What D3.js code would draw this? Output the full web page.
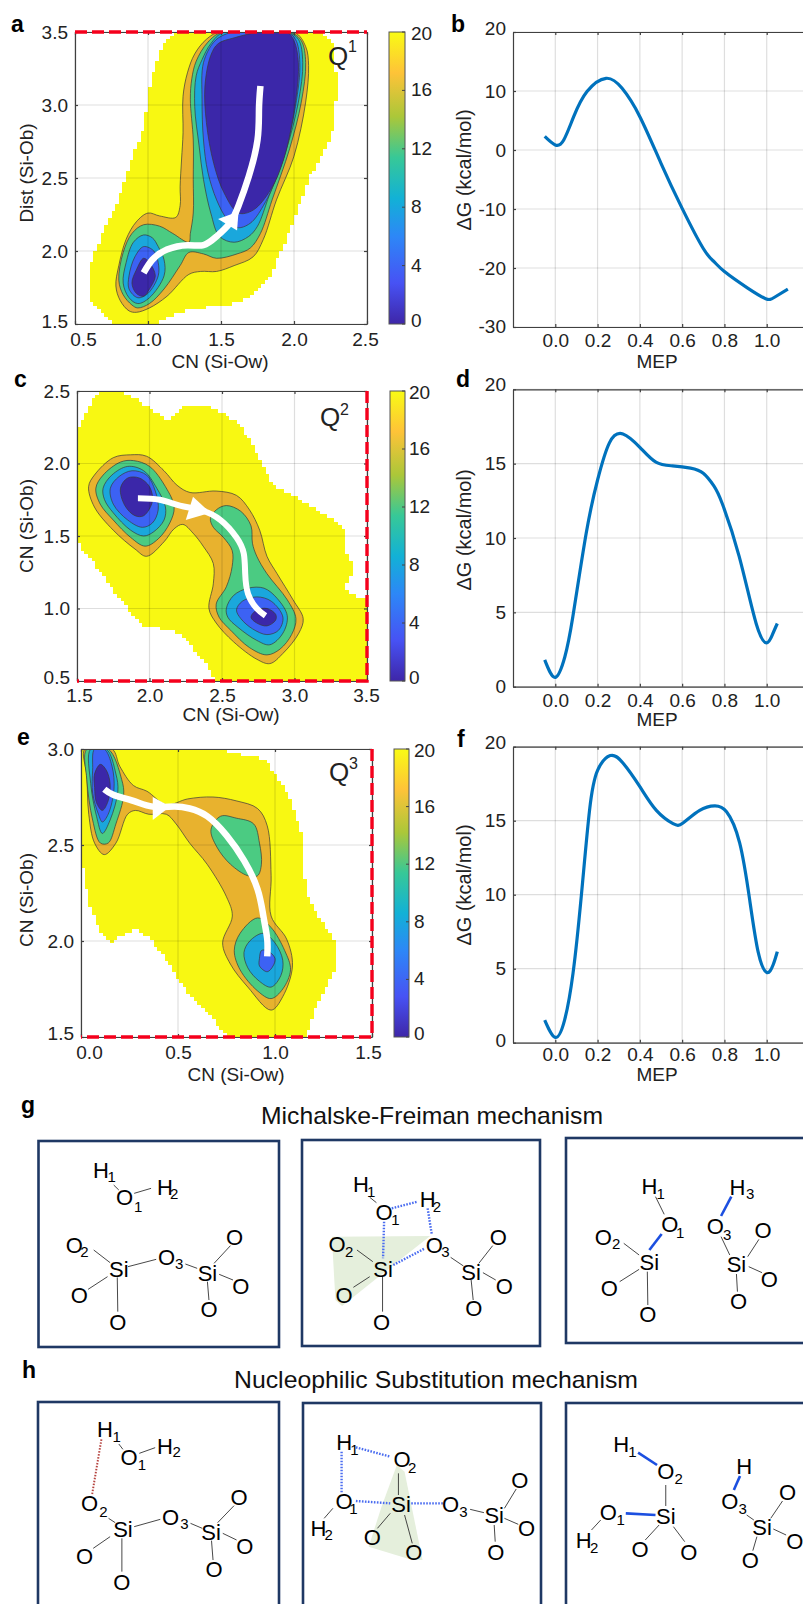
<!DOCTYPE html>
<html>
<head>
<meta charset="utf-8">
<script src="https://cdn.jsdelivr.net/npm/d3@7"></script>
<style>
body { margin: 0; background: #fff; }
text { font-family: "Liberation Sans", Arial, sans-serif; fill: #222; }
</style>
</head>
<body>
<div id="fig"></div>
<script>
// colour levels
const levels = [20, 16, 12, 8, 4, 0];
const bandColors = ["#f8f812", "#e8b22e", "#4bcb82", "#1aa7dc", "#3c62f4", "#3b27a9"];
const parulaStops = [0, 0.14, 0.3, 0.43, 0.57, 0.71, 0.86, 1];
const parulaColors = ["#3e26a8", "#4752f4", "#2d87f7", "#12b1d6", "#37c897", "#abc739", "#fec338", "#f9fb14"];
const cbTicks = [0, 4, 8, 12, 16, 20];

// panel a contours, [CN, Dist]
const a20 = [[1.19,3.5],[1.12,3.45],[1.08,3.36],[1.04,3.24],[1.01,3.11],[.99,2.95],[.96,2.81],[.89,2.63],[.84,2.47],[.76,2.26],[.67,2.08],[.6,1.9],[.6,1.67],[.69,1.58],[.77,1.5],[1.04,1.5],[1.2,1.58],[1.38,1.61],[1.56,1.63],[1.69,1.68],[1.85,1.83],[1.87,1.92],[1.95,2.08],[2.11,2.51],[2.23,2.72],[2.27,2.86],[2.28,2.99],[2.31,3.13],[2.28,3.27],[2.27,3.43],[2.2,3.5]];
const a16 = [[1.49,3.5],[1.4,3.45],[1.32,3.35],[1.27,3.22],[1.24,3.06],[1.24,2.81],[1.23,2.63],[1.22,2.44],[1.22,2.31],[1.19,2.23],[1.08,2.24],[1,2.26],[.92,2.2],[.85,2.08],[.8,1.9],[.78,1.76],[.81,1.66],[.87,1.59],[.92,1.58],[1.01,1.61],[1.13,1.69],[1.28,1.84],[1.36,1.86],[1.47,1.86],[1.59,1.9],[1.72,1.96],[1.79,2.08],[1.88,2.35],[2,2.65],[2.08,3.02],[2.1,3.27],[2.08,3.4],[2,3.5]];
const a12 = [[1.51,3.5],[1.41,3.43],[1.33,3.3],[1.3,3.18],[1.29,3.04],[1.31,2.76],[1.31,2.49],[1.31,2.26],[1.29,2.12],[1.28,2.06],[1.17,2.12],[1.08,2.17],[.97,2.18],[.89,2.12],[.83,1.99],[.8,1.8],[.83,1.7],[.89,1.63],[.93,1.61],[1.01,1.64],[1.11,1.74],[1.22,1.9],[1.28,1.99],[1.38,1.98],[1.47,1.95],[1.61,1.98],[1.7,2.02],[1.77,2.12],[1.85,2.35],[1.97,2.7],[2.05,3.02],[2.08,3.29],[2.05,3.44],[1.97,3.5]];
const a8r = [[1.52,3.5],[1.43,3.42],[1.37,3.31],[1.33,3.2],[1.32,2.99],[1.35,2.72],[1.38,2.49],[1.43,2.26],[1.49,2.1],[1.59,2.06],[1.69,2.1],[1.75,2.17],[1.83,2.38],[1.94,2.67],[2.03,3.02],[2.06,3.29],[2.03,3.45],[1.95,3.5]];
const a8l = [[.97,2.11],[.9,2.06],[.85,1.92],[.83,1.78],[.87,1.68],[.93,1.64],[1.01,1.68],[1.11,1.83],[1.11,1.94],[1.07,2.03],[1.03,2.09]];
const a4r = [[1.52,3.48],[1.45,3.43],[1.38,3.29],[1.37,3.04],[1.38,2.76],[1.41,2.54],[1.47,2.35],[1.54,2.22],[1.61,2.16],[1.7,2.19],[1.79,2.31],[1.91,2.58],[2.01,2.99],[2.04,3.29],[2.01,3.45],[1.95,3.5],[1.7,3.52]];
const a4l = [[.97,2.03],[.91,1.96],[.87,1.83],[.87,1.74],[.93,1.68],[1,1.71],[1.07,1.83],[1.07,1.92],[1.04,2]];
const a0r = [[1.48,3.42],[1.43,3.34],[1.39,3.13],[1.4,2.88],[1.45,2.6],[1.52,2.4],[1.62,2.26],[1.72,2.28],[1.84,2.42],[1.93,2.63],[2.01,3.02],[2.03,3.29],[2,3.44],[1.95,3.5],[1.77,3.5],[1.59,3.46]];
const a0l = [[.97,1.95],[.92,1.87],[.89,1.78],[.92,1.71],[.97,1.69],[1.01,1.74],[1.05,1.83],[1.01,1.92]];
const aPath = [[.97,1.85],[1.03,1.94],[1.13,2.01],[1.27,2.04],[1.38,2.04],[1.47,2.1],[1.56,2.19],[1.62,2.31],[1.69,2.51],[1.75,2.76],[1.76,2.97],[1.77,3.13]];
const aHead = [[1.48,2.22],[1.62,2.27],[1.61,2.14]];

// panel c contours
const c20 = [[1.5,2.24],[1.57,2.36],[1.6,2.44],[1.67,2.5],[1.8,2.5],[1.93,2.43],[2.05,2.35],[2.13,2.29],[2.22,2.39],[2.3,2.41],[2.46,2.38],[2.61,2.28],[2.68,2.18],[2.75,2.05],[2.81,1.93],[2.86,1.85],[2.99,1.78],[3.15,1.68],[3.27,1.61],[3.34,1.54],[3.34,1.43],[3.39,1.31],[3.39,1.24],[3.35,1.15],[3.41,1.09],[3.5,1.06],[3.5,.5],[2.46,.5],[2.4,.6],[2.25,.79],[2.17,.85],[1.96,.88],[1.88,.96],[1.77,1.1],[1.66,1.26],[1.52,1.43],[1.5,1.46]];
const c16 = [[1.58,1.84],[1.62,1.92],[1.75,2.04],[1.87,2.06],[1.98,2.05],[2.1,1.95],[2.19,1.85],[2.28,1.8],[2.46,1.81],[2.6,1.78],[2.69,1.68],[2.76,1.54],[2.81,1.36],[2.88,1.24],[2.99,1.06],[3.06,.93],[3.03,.83],[2.92,.69],[2.83,.62],[2.74,.65],[2.58,.77],[2.46,.9],[2.41,1],[2.44,1.17],[2.44,1.31],[2.37,1.43],[2.3,1.52],[2.23,1.58],[2.17,1.55],[2.1,1.46],[1.98,1.36],[1.9,1.41],[1.75,1.54],[1.62,1.7]];
const c12l = [[1.63,1.83],[1.68,1.92],[1.8,2.01],[1.89,2.02],[2,1.98],[2.11,1.84],[2.17,1.7],[2.14,1.59],[2.06,1.48],[1.97,1.43],[1.87,1.49],[1.75,1.61],[1.66,1.72]];
const c12r = [[2.42,1.62],[2.46,1.68],[2.53,1.71],[2.63,1.67],[2.7,1.57],[2.71,1.45],[2.74,1.36],[2.81,1.24],[2.95,1.06],[3.01,.93],[2.98,.82],[2.9,.72],[2.81,.68],[2.69,.73],[2.56,.85],[2.48,.94],[2.46,1.03],[2.53,1.15],[2.57,1.29],[2.57,1.4],[2.51,1.49],[2.44,1.56]];
const c8l = [[1.68,1.83],[1.74,1.92],[1.85,1.98],[1.96,1.95],[2.05,1.83],[2.11,1.7],[2.1,1.61],[2.03,1.53],[1.96,1.5],[1.87,1.54],[1.75,1.66],[1.69,1.75]];
const c8r = [[2.53,1],[2.58,1.09],[2.68,1.14],[2.79,1.14],[2.88,1.07],[2.95,.95],[2.92,.83],[2.83,.75],[2.74,.78],[2.61,.87],[2.54,.94]];
const c4l = [[1.73,1.83],[1.79,1.91],[1.88,1.95],[1.98,1.92],[2.04,1.81],[2.06,1.68],[2.02,1.59],[1.95,1.56],[1.85,1.61],[1.75,1.72]];
const c4r = [[2.6,.99],[2.64,1.05],[2.74,1.08],[2.84,1.05],[2.92,.94],[2.89,.85],[2.81,.82],[2.71,.86],[2.63,.93]];
const c0l = [[1.8,1.83],[1.85,1.9],[1.93,1.9],[2,1.84],[2.02,1.74],[1.96,1.64],[1.9,1.64],[1.83,1.71]];
const c0r = [[2.7,.94],[2.74,.99],[2.81,1],[2.87,.96],[2.87,.92],[2.81,.88],[2.74,.9]];
const cPath = [[1.92,1.76],[2.07,1.75],[2.21,1.71],[2.35,1.68],[2.49,1.61],[2.6,1.49],[2.65,1.38],[2.66,1.24],[2.68,1.1],[2.74,1],[2.8,.95]];
const cHead = [[2.3,1.77],[2.25,1.61],[2.42,1.66]];

// panel e contours
const e20 = [[0,3],[.71,3],[.79,2.98],[.94,2.95],[1.01,2.86],[1.08,2.73],[1.14,2.56],[1.14,2.39],[1.17,2.23],[1.22,2.13],[1.32,1.99],[1.32,1.87],[1.29,1.82],[1.21,1.66],[1.16,1.5],[.75,1.5],[.66,1.62],[.51,1.78],[.43,1.92],[.35,2.02],[.28,2.06],[.22,2.03],[.15,1.99],[.1,2.04],[.04,2.2],[.02,2.32],[0,2.42]];
const e16 = [[.02,3],[.03,2.86],[.04,2.66],[.07,2.51],[.12,2.45],[.18,2.51],[.24,2.66],[.28,2.68],[.35,2.66],[.44,2.66],[.49,2.61],[.56,2.51],[.65,2.4],[.75,2.23],[.78,2.13],[.73,1.99],[.77,1.88],[.86,1.76],[.98,1.64],[1.04,1.71],[1.09,1.87],[1.06,2.01],[.98,2.13],[.98,2.34],[.96,2.6],[.91,2.69],[.8,2.73],[.68,2.75],[.55,2.74],[.44,2.71],[.34,2.78],[.27,2.81],[.2,2.91],[.16,3]];
const e12t = [[.03,3],[.03,2.84],[.06,2.63],[.1,2.51],[.14,2.51],[.18,2.61],[.22,2.76],[.21,2.84],[.14,3]];
const e12m = [[.67,2.58],[.72,2.65],[.8,2.64],[.89,2.61],[.92,2.51],[.93,2.4],[.91,2.34],[.86,2.34],[.77,2.4],[.7,2.49]];
const e12b = [[.79,1.95],[.82,2.04],[.91,2.12],[.98,2.07],[1.05,1.95],[1.08,1.85],[1.04,1.75],[.98,1.7],[.91,1.74],[.82,1.85]];
const e8t = [[.05,3],[.05,2.82],[.08,2.65],[.11,2.56],[.15,2.63],[.19,2.78],[.18,2.87],[.13,3]];
const e8b = [[.84,1.94],[.87,2],[.94,2.04],[1,1.99],[1.04,1.9],[1.03,1.82],[.98,1.76],[.92,1.79],[.86,1.86]];
const e4t = [[.07,3],[.06,2.89],[.06,2.77],[.09,2.66],[.11,2.62],[.14,2.66],[.17,2.79],[.16,2.91],[.12,3]];
const e4b = [[.92,1.91],[.93,1.95],[.96,1.95],[1,1.91],[.99,1.87],[.96,1.84],[.92,1.87]];
const e0t = [[.1,2.92],[.07,2.87],[.07,2.8],[.08,2.72],[.11,2.68],[.14,2.73],[.15,2.82],[.13,2.89]];
const ePath = [[.12,2.79],[.17,2.76],[.27,2.73],[.37,2.7],[.48,2.7],[.56,2.69],[.65,2.65],[.75,2.55],[.84,2.42],[.91,2.27],[.94,2.13],[.96,2.01],[.96,1.92]];
const eHead = [[.37,2.75],[.37,2.63],[.46,2.7]];

// free energy profiles, [MEP, dG]
const bCurve = [[-.05,2.3],[0,.85],[.04,1.7],[.087,5.65],[.15,9.9],[.24,12.15],[.316,10.45],[.4,5.65],[.5,-2.26],[.6,-9.9],[.7,-16.7],[.75,-18.9],[.8,-20.6],[.91,-23.4],[.995,-25.2],[1.035,-25],[1.1,-23.6]];
const dCurve = [[-.05,1.8],[0,.63],[.045,2],[.083,4.7],[.146,10.3],[.2,13.9],[.256,16.4],[.32,17],[.4,16.1],[.476,15.1],[.555,14.85],[.64,14.7],[.7,14.35],[.75,13.5],[.79,12.3],[.87,8.75],[.95,4.25],[1,2.95],[1.027,3.5],[1.05,4.25]];
const fCurve = [[-.05,1.53],[0,.36],[.044,1.53],[.084,4.7],[.123,9.9],[.162,15.7],[.2,18.4],[.26,19.4],[.32,18.9],[.4,17.3],[.478,15.7],[.557,14.8],[.604,14.85],[.683,15.7],[.754,16],[.81,15.6],[.872,13.5],[.92,9.6],[.96,6.1],[1,4.75],[1.03,5.25],[1.05,6.15]];
const mepTicks = [0, .2, .4, .6, .8, 1];

// mechanism drawings, [label, x, y, subscript, sx, sy]
const gAtoms = [["H",197,270,"1",218,290],["O",243,352,"1",270,380],["H",322,322,"2",340,340],["Si",232,568],["O",145,495,"2",165,515],["O",325,530,"3",350,552],["Si",405,578],["O",458,472],["O",470,617],["O",408,687],["O",155,645],["O",230,725],
  ["H",705,312,"1",725,335],["O",750,395,"1",772,420],["H",835,358,"2",853,380],["O",658,492,"2",682,515],["Si",748,568],["O",848,495,"3",870,515],["Si",920,575],["O",973,470],["O",985,617],["O",925,685],["O",672,645],["O",745,725],
  ["H",1268,318,"1",1290,340],["O",1308,433,"1",1328,458],["O",1178,470,"2",1203,492],["Si",1268,545],["H",1440,322,"3",1465,342],["O",1397,437,"3",1420,465],["Si",1438,553],["O",1490,450],["O",1502,597],["O",1442,663],["O",1190,625],["O",1265,703]];
const gBonds = [[222,315,232,330],[262,340,295,325],[183,510,215,548],[250,560,305,538],[362,552,385,565],[418,550,450,497],[428,583,455,600],[405,605,408,660],[210,590,172,628],[229,592,230,695],
  [722,352,735,368],[697,510,728,545],[722,590,690,622],[747,590,747,695],[880,532,905,558],[935,550,962,497],[943,578,968,600],[920,600,924,660],
  [1280,350,1297,403],[1218,490,1248,525],[1248,568,1210,605],[1264,575,1265,675],[1408,470,1425,525],[1460,530,1482,478],[1462,560,1488,578],[1438,582,1440,635]];
const gDotted = [[765,385,815,365],[835,385,843,462],[750,425,748,535],[768,555,830,505]];
const gNew = [[1292,462,1268,510],[1428,350,1408,408]];
const gShade = [[648,470],[840,468],[760,565],[668,678],[655,660]];

const hAtoms = [["H",205,268,"1",228,290],["O",252,352,"1",277,375],["H",322,317,"2",345,335],["O",175,490,"2",202,515],["Si",240,568],["O",333,530,"3",360,552],["Si",412,575],["O",467,470],["O",478,617],["O",418,687],["O",165,647],["O",238,725],
  ["H",672,305,"1",692,328],["O",785,358,"2",805,382],["O",672,483,"1",690,507],["H",622,565,"2",642,585],["Si",783,492],["O",880,493,"3",905,515],["Si",965,525],["O",1015,420],["O",1028,565],["O",968,635],["O",727,592],["O",808,637],
  ["H",1213,312,"1",1235,335],["O",1300,392,"2",1325,415],["O",1188,517,"1",1212,540],["H",1140,600,"2",1160,622],["Si",1300,527],["H",1453,378],["O",1425,483,"3",1450,505],["Si",1488,560],["O",1538,457],["O",1552,603],["O",1465,660],["O",1250,628],["O",1345,635]];
const hBonds = [[232,312,240,328],[272,340,303,323],[212,535,225,548],[262,560,313,538],[372,550,395,565],[425,548,457,497],[435,580,462,600],[413,602,416,660],[215,590,182,625],[238,595,238,695],
  [778,400,778,465],[762,520,737,565],[790,525,805,610],[650,505,633,535],[918,508,945,518],[985,505,1008,447],[985,535,1012,553],[965,555,967,605],
  [1300,435,1300,498],[1173,540,1155,570],[1287,555,1260,600],[1315,560,1337,605],[1458,525,1472,540],[1505,535,1528,483],[1510,567,1535,585],[1478,590,1470,632]];
const hDotted = [[695,322,762,350],[667,335,667,458],[695,483,762,490],[803,490,865,490]];
const hRed = [[198,298,180,462]];
const hNew = [[1246,338,1283,375],[1222,520,1280,525],[1445,408,1433,450]];
const hShade = [[775,375],[790,395],[825,660],[805,660],[720,620],[745,500]];

const svg = d3.select("#fig").append("svg").attr("width", 803).attr("height", 1604).style("display", "block");
const defs = svg.append("defs");

const bandColor = d3.scaleOrdinal().domain(levels).range(bandColors);
const parula = d3.scaleLinear().domain(parulaStops).range(parulaColors);
const closedCurve = d3.line().curve(d3.curveCatmullRomClosed.alpha(0.5));

function addAxes(x, y, xTicks, yTicks, xFmt, opt) {
  const [x0, x1] = x.range();
  const [y0, y1] = y.range();
  // grid sits on top of the filled contours
  svg.append("g").selectAll("line").data(xTicks).enter().append("line")
    .attr("x1", d => x(d)).attr("x2", d => x(d)).attr("y1", y0).attr("y2", y1)
    .attr("stroke", "#000").attr("stroke-opacity", 0.13).attr("stroke-width", 1.2);
  svg.append("g").selectAll("line").data(yTicks).enter().append("line")
    .attr("y1", d => y(d)).attr("y2", d => y(d)).attr("x1", x0).attr("x2", x1)
    .attr("stroke", "#000").attr("stroke-opacity", 0.13).attr("stroke-width", 1.2);

  const bottom = svg.append("g").attr("transform", "translate(0," + y0 + ")")
    .call(d3.axisBottom(x).tickValues(xTicks).tickFormat(xFmt).tickSizeInner(-3).tickSizeOuter(0).tickPadding(opt.pad));
  const left = svg.append("g").attr("transform", "translate(" + x0 + ",0)")
    .call(d3.axisLeft(y).tickValues(yTicks).tickFormat(opt.yFmt).tickSizeInner(-3).tickSizeOuter(0).tickPadding(7));
  const top = svg.append("g").attr("transform", "translate(0," + y1 + ")")
    .call(d3.axisTop(x).tickValues(xTicks).tickFormat("").tickSizeInner(-3).tickSizeOuter(0));
  const right = svg.append("g").attr("transform", "translate(" + x1 + ",0)")
    .call(d3.axisRight(y).tickValues(yTicks).tickFormat("").tickSizeInner(-3).tickSizeOuter(0));
  [bottom, left, top, right].forEach(a => {
    a.attr("font-family", null).attr("font-size", null);
    a.selectAll("text").style("font-size", "19px");
    a.selectAll("path,line").attr("stroke", "#404040").attr("stroke-width", 1.2);
  });
  const xLabels = bottom.selectAll("text");
  xLabels.filter((d, i) => i == 0).attr("dx", opt.xShift[0]);
  xLabels.filter((d, i) => i == xTicks.length - 1).attr("dx", opt.xShift[1]);
  const yLabels = left.selectAll("text");
  yLabels.filter((d, i) => i == 0).attr("dy", (0.32 - opt.yShift[0] / 19) + "em");
  yLabels.filter((d, i) => i == yTicks.length - 1).attr("dy", (0.32 + opt.yShift[1] / 19) + "em");

  svg.append("text").attr("x", opt.xt[0]).attr("y", opt.xt[1]).attr("text-anchor", "middle")
    .style("font-size", "19px").text(opt.xTitle);
  svg.append("text").attr("transform", "translate(" + opt.yt[0] + "," + opt.yt[1] + ") rotate(-90)")
    .attr("text-anchor", "middle").style("font-size", opt.ytSize).text(opt.yTitle);
}

function colorbar(i, xr, yr, labelX) {
  const id = "cb" + i;
  const grad = defs.append("linearGradient").attr("id", id).attr("x1", 0).attr("x2", 0).attr("y1", 1).attr("y2", 0);
  grad.selectAll("stop").data(parulaStops).enter().append("stop")
    .attr("offset", d => d).attr("stop-color", d => parula(d));
  const y = d3.scaleLinear().domain([0, 20]).range(yr);
  svg.append("rect").attr("x", xr[0]).attr("y", yr[1]).attr("width", xr[1] - xr[0]).attr("height", yr[0] - yr[1])
    .attr("fill", "url(#" + id + ")").attr("stroke", "#555").attr("stroke-width", 1);
  svg.append("g").selectAll("line").data(cbTicks).enter().append("line")
    .attr("x1", xr[1] - 3).attr("x2", xr[1]).attr("y1", d => y(d)).attr("y2", d => y(d))
    .attr("stroke", "#444").attr("stroke-width", 1);
  svg.append("g").selectAll("text").data(cbTicks).enter().append("text")
    .attr("x", labelX).attr("y", d => Math.min(Math.max(y(d) + 6, yr[1] + 8), yr[0] + 3))
    .style("font-size", "19px").text(d => d);
}

// the outer level is blocky in the original, fill it cell by cell on an 80 x 80 grid
function blockyOutline(poly, x, y, xd, yd) {
  const dx = (xd[1] - xd[0]) / 80, dy = (yd[1] - yd[0]) / 80;
  let d = "";
  d3.range(80).forEach(i => d3.range(80).forEach(j => {
    const cx = xd[0] + (i + 0.5) * dx, cy = yd[0] + (j + 0.5) * dy;
    if (d3.polygonContains(poly, [cx, cy])) {
      const left = x(cx - dx / 2), right = x(cx + dx / 2), up = y(cy + dy / 2), down = y(cy - dy / 2);
      d += "M" + left + "," + up + "H" + right + "V" + down + "H" + left + "Z";
    }
  }));
  return d;
}

function contourPanel(i, opt) {
  const x = d3.scaleLinear().domain(opt.xd).range(opt.xr);
  const y = d3.scaleLinear().domain(opt.yd).range(opt.yr);
  const clip = "clip" + i;
  defs.append("clipPath").attr("id", clip).append("rect")
    .attr("x", opt.xr[0]).attr("y", opt.yr[1]).attr("width", opt.xr[1] - opt.xr[0]).attr("height", opt.yr[0] - opt.yr[1]);
  const plot = svg.append("g").attr("clip-path", "url(#" + clip + ")");
  const toPx = pts => pts.map(d => [x(d[0]), y(d[1])]);

  plot.append("path").attr("d", blockyOutline(opt.outer, x, y, opt.xd, opt.yd))
    .attr("fill", bandColor(20)).attr("shape-rendering", "crispEdges");
  plot.selectAll("path.band").data(opt.bands).enter().append("path").attr("class", "band")
    .attr("d", d => closedCurve(toPx(d[1])))
    .attr("fill", d => bandColor(d[0])).attr("stroke", "#3a3a3a").attr("stroke-width", 0.7);

  addAxes(x, y, opt.xTicks, opt.yTicks, d3.format(".1f"), Object.assign({yFmt: d3.format(".1f"), ytSize: "19px"}, opt));

  // white reaction path
  svg.append("path").attr("d", d3.line().curve(d3.curveNatural)(toPx(opt.path)))
    .attr("fill", "none").attr("stroke", "#fff").attr("stroke-width", opt.pathW);
  svg.append("path").attr("d", d3.line()(toPx(opt.head)) + "Z").attr("fill", "#fff");

  // red dashed frame of the restrained side
  svg.append("path").attr("d", d3.line()(opt.red.map(d => [x(d[0]), y(d[1])])))
    .attr("fill", "none").attr("stroke", "#f5001c").attr("stroke-width", 3.4).attr("stroke-dasharray", "12 5");

  svg.append("text").attr("x", opt.q[0]).attr("y", opt.q[1]).style("font-size", "26px").text("Q");
  svg.append("text").attr("x", opt.q[0] + opt.q[2]).attr("y", opt.q[1] - opt.q[3]).style("font-size", "16px").text(opt.q[4]);

  colorbar(i, opt.cbx, opt.yr, opt.cbl);
}

function profilePanel(curve, yd, yr, yTicks, opt) {
  const x = d3.scaleLinear().domain([-0.2, 1.2]).range([513, 809]);
  const y = d3.scaleLinear().domain(yd).range(yr);
  addAxes(x, y, mepTicks, yTicks, d3.format(".1f"), Object.assign({
    yFmt: d => d, xShift: [0, 0], xTitle: "MEP", yTitle: "\u0394G (kcal/mol)", ytSize: "20px"}, opt));
  svg.append("path").attr("d", d3.line().x(d => x(d[0])).y(d => y(d[1])).curve(d3.curveNatural)(curve))
    .attr("fill", "none").attr("stroke", "#0072bd").attr("stroke-width", 3.2);
}

contourPanel(0, {
  xd: [0.5, 2.5], yd: [1.5, 3.5], xr: [75, 367], yr: [324, 32],
  outer: a20,
  bands: [[16,a16],[12,a12],[8,a8r],[8,a8l],[4,a4r],[4,a4l],[0,a0r],[0,a0l]],
  xTicks: [.5,1,1.5,2,2.5], yTicks: [1.5,2,2.5,3,3.5], pad: 9, xShift: [8,-2], yShift: [3,0],
  xTitle: "CN (Si-Ow)", yTitle: "Dist (Si-Ob)", xt: [220,368], yt: [33,173],
  path: aPath, head: aHead, pathW: 6.5, red: [[.5,3.5],[2.5,3.5]],
  q: [328,65,20,13,"1"], cbx: [389,405], cbl: 411
});
contourPanel(1, {
  xd: [1.5, 3.5], yd: [.5, 2.5], xr: [77, 367], yr: [681, 391],
  outer: c20,
  bands: [[16,c16],[12,c12l],[12,c12r],[8,c8l],[8,c8r],[4,c4l],[4,c4r],[0,c0l],[0,c0r]],
  xTicks: [1.5,2,2.5,3,3.5], yTicks: [.5,1,1.5,2,2.5], pad: 8, xShift: [2,-1], yShift: [4,0],
  xTitle: "CN (Si-Ow)", yTitle: "CN (Si-Ob)", xt: [231,721], yt: [33,526],
  path: cPath, head: cHead, pathW: 6, red: [[3.5,2.5],[3.5,.5],[1.5,.5]],
  q: [320,426,20,11,"2"], cbx: [390,405], cbl: 409
});
contourPanel(2, {
  xd: [0, 1.5], yd: [1.5, 3], xr: [81, 372], yr: [1037, 749],
  outer: e20,
  bands: [[16,e16],[12,e12t],[12,e12m],[12,e12b],[8,e8t],[8,e8b],[4,e4t],[4,e4b],[0,e0t]],
  xTicks: [0,.5,1,1.5], yTicks: [1.5,2,2.5,3], pad: 9, xShift: [8,-4], yShift: [4,0],
  xTitle: "CN (Si-Ow)", yTitle: "CN (Si-Ob)", xt: [236,1081], yt: [33,900],
  path: ePath, head: eHead, pathW: 6.5, red: [[1.5,3],[1.5,1.5],[0,1.5]],
  q: [329,781,20,12,"3"], cbx: [394,409], cbl: 414
});

profilePanel(bCurve, [-30, 20], [327, 32], [-30,-20,-10,0,10,20],
  {pad: 7, yShift: [1,-4], xt: [657,368], yt: [471,170]});
profilePanel(dCurve, [0, 20], [686.7, 389.3], [0,5,10,15,20],
  {pad: 6.5, yShift: [0,-5], xt: [657,726], yt: [471,530]});
profilePanel(fCurve, [0, 20], [1042.7, 746.7], [0,5,10,15,20],
  {pad: 4.5, yShift: [2,-4], xt: [657,1081], yt: [471,885]});

// panel letters
const panelLetters = [["a",11,32],["b",451,32],["c",14,387],["d",456,387],["e",17,745],["f",457,747],["g",21,1113],["h",22,1378]];
svg.append("g").selectAll("text").data(panelLetters).enter().append("text")
  .attr("x", d => d[1]).attr("y", d => d[2]).style("font-size", "23px").style("font-weight", "bold").style("fill", "#000").text(d => d[0]);

// mechanism rows
const sx = d3.scaleLinear().domain([0, 1568]).range([0, 803]);
function mechRow(base, opt) {
  const sy = d3.scaleLinear().domain([0, 810]).range([base, base + 270]);
  const seg = (list, color, width, dash) => svg.append("g").selectAll("line").data(list).enter().append("line")
    .attr("x1", d => sx(d[0])).attr("y1", d => sy(d[1])).attr("x2", d => sx(d[2])).attr("y2", d => sy(d[3]))
    .attr("stroke", color).attr("stroke-width", width).attr("stroke-dasharray", dash);
  svg.append("polygon").attr("points", opt.shade.map(d => [sx(d[0]), sy(d[1])].join(",")).join(" ")).attr("fill", "#e5efdc");
  seg(opt.bonds, "#333", 0.9, null);
  seg(opt.dotted, "#4a6cf0", 2.4, "1.6 1.4");
  if (opt.red) seg(opt.red, "#b5433f", 2, "1.5 1.5");
  seg(opt.fresh, "#1c4fe0", 2.6, null);
  const g = svg.append("g");
  g.selectAll("text.a").data(opt.atoms).enter().append("text").attr("class", "a")
    .attr("x", d => sx(d[1])).attr("y", d => sy(d[2])).attr("dy", "0.36em").attr("text-anchor", "middle")
    .style("font-size", "22px").style("fill", "#000").text(d => d[0]);
  g.selectAll("text.s").data(opt.atoms.filter(d => d[3])).enter().append("text").attr("class", "s")
    .attr("x", d => sx(d[4])).attr("y", d => sy(d[5])).attr("dy", "0.36em").attr("text-anchor", "middle")
    .style("font-size", "15px").style("fill", "#000").text(d => d[3]);
}
mechRow(1080, {atoms: gAtoms, bonds: gBonds, dotted: gDotted, fresh: gNew, shade: gShade});
mechRow(1340, {atoms: hAtoms, bonds: hBonds, dotted: hDotted, red: hRed, fresh: hNew, shade: hShade});

// frames around the drawings
const frames = [[38.5,1141,279,1347],[302,1140,540,1346],[566,1138,815,1343],[38,1402,279,1620],[303,1403,541,1620],[566,1403,815,1620]];
svg.append("g").selectAll("rect").data(frames).enter().append("rect")
  .attr("x", d => d[0]).attr("y", d => d[1]).attr("width", d => d[2] - d[0]).attr("height", d => d[3] - d[1])
  .attr("fill", "none").attr("stroke", "#1f3864").attr("stroke-width", 2.6);

// row titles
const rowTitles = [["Michalske-Freiman mechanism",261,1124,342],["Nucleophilic Substitution mechanism",234,1388,404]];
svg.append("g").selectAll("text").data(rowTitles).enter().append("text")
  .attr("x", d => d[1]).attr("y", d => d[2]).attr("textLength", d => d[3]).attr("lengthAdjust", "spacingAndGlyphs")
  .style("font-size", "24px").style("fill", "#111").text(d => d[0]);
</script>
</body>
</html>
